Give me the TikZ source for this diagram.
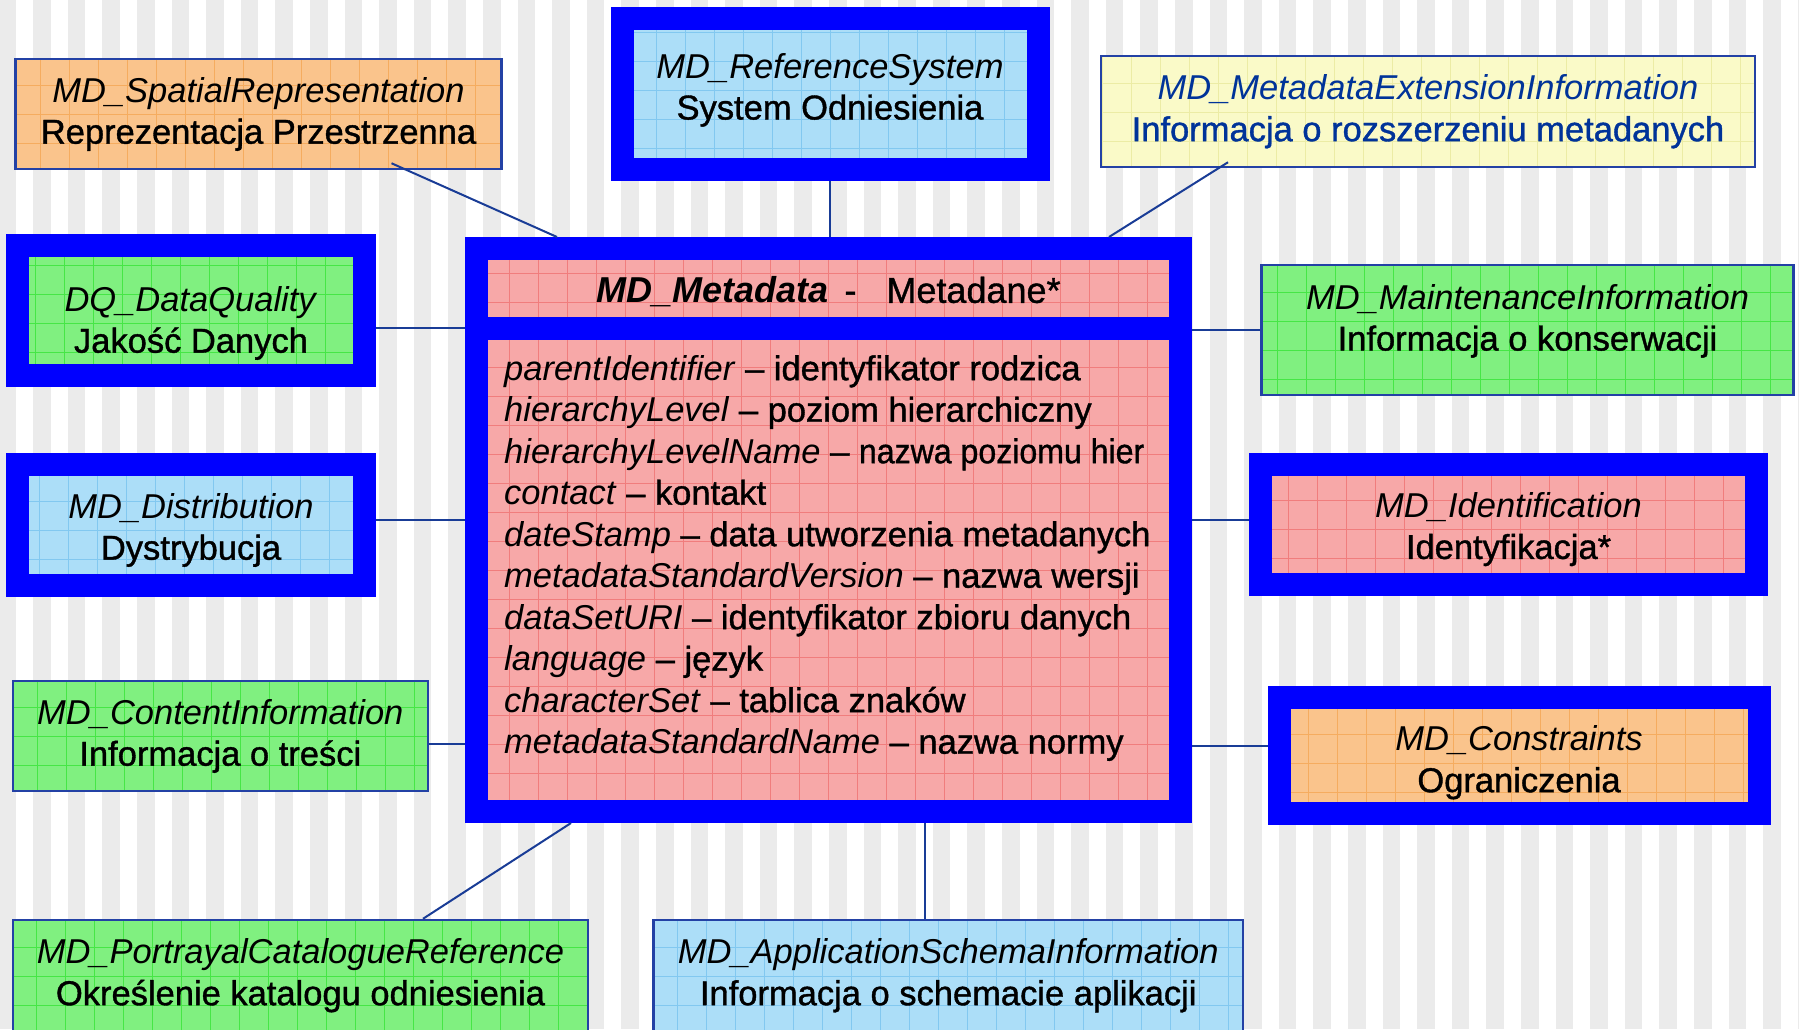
\documentclass[tikz,border=0pt]{standalone}
\usepackage{graphicx}
\usepackage{fontspec}
\setmainfont{Liberation Sans}[UprightFeatures={FakeBold=1.1}]

\definecolor{frameblue}{RGB}{0,0,255}
\definecolor{edgeblue}{RGB}{35,65,165}
\definecolor{linkblue}{RGB}{25,60,150}
\definecolor{stripegray}{RGB}{235,235,235}
\definecolor{pinkfill}{RGB}{247,168,168}
\definecolor{pinkgrid}{RGB}{240,125,125}
\definecolor{greenfill}{RGB}{128,240,128}
\definecolor{greengrid}{RGB}{70,230,70}
\definecolor{bluefill}{RGB}{172,222,248}
\definecolor{bluegrid}{RGB}{130,200,240}
\definecolor{orangefill}{RGB}{250,196,140}
\definecolor{orangegrid}{RGB}{245,172,95}
\definecolor{yellowfill}{RGB}{250,250,200}
\definecolor{yellowgrid}{RGB}{236,236,165}
\definecolor{textnavy}{RGB}{0,51,153}

% struts that move a two-line label down (tall first line) or up (deep last line)
\newcommand{\tallstrut}[1]{\rule{0pt}{#1}}
\newcommand{\deepstrut}[1]{\rule[-#1]{0pt}{0pt}}

\tikzstyle{cls}=[shape=rectangle,
                 draw=edgeblue,
                 line width=2.5pt,
                 inner sep=0pt,
                 align=center,
                 font=\fontsize{34.5}{41.5}\selectfont]
\tikzstyle{frm}=[shape=rectangle,
                 draw=frameblue,
                 line width=23pt,
                 inner sep=0pt,
                 align=center,
                 font=\fontsize{34.5}{41.5}\selectfont]
\tikzstyle{conn}=[draw=linkblue,line width=2pt]
\tikzstyle{pinkbox}=[fill=pinkfill,path picture={\draw[pinkgrid,line width=1pt,step=29pt]
  (path picture bounding box.south west) grid (path picture bounding box.north east);}]
\tikzstyle{greenbox}=[fill=greenfill,path picture={\draw[greengrid,line width=1pt,step=29pt]
  (path picture bounding box.south west) grid (path picture bounding box.north east);}]
\tikzstyle{bluebox}=[fill=bluefill,path picture={\draw[bluegrid,line width=1pt,step=29pt]
  (path picture bounding box.south west) grid (path picture bounding box.north east);}]
\tikzstyle{orangebox}=[fill=orangefill,path picture={\draw[orangegrid,line width=1pt,step=29pt]
  (path picture bounding box.south west) grid (path picture bounding box.north east);}]
\tikzstyle{yellowbox}=[fill=yellowfill,path picture={\draw[yellowgrid,line width=1pt,step=29pt]
  (path picture bounding box.south west) grid (path picture bounding box.north east);}]

\begin{document}
\begin{tikzpicture}[x=1pt,y=-1pt]
\useasboundingbox (0,0) rectangle (1799,1029);
\clip (0,0) rectangle (1799,1029);

% striped background
\fill[white] (0,0) rectangle (1799,1029);
\foreach \i in {0,...,52}
  \fill[stripegray] ({\i*34.6-1.4},0) rectangle ++(17.6,1029);

% main class
\node[frm,pinkbox,minimum width=704pt,minimum height=80pt,
      font=\fontsize{36}{43}\selectfont] (metahead) at (828.5,288.5)
      {\tallstrut{33pt}\textbf{\textit{MD\_Metadata}}\hspace{16pt}-\hspace{30pt}Metadane*};
\node[frm,pinkbox,minimum width=704pt,minimum height=483pt] (metabody) at (828.5,570) {};
\node[anchor=north west,inner sep=0pt,align=left,
      font=\fontsize{34.5}{41.5}\selectfont] (attrs) at (504,355)
      {\textit{parentIdentifier} – identyfikator rodzica\\
       \textit{hierarchyLevel} – poziom hierarchiczny\\
       \textit{hierarchyLevelName} – \scalebox{0.93}[1]{nazwa poziomu hier}\\
       \textit{contact} – kontakt\\
       \textit{dateStamp} – data utworzenia metadanych\\
       \textit{metadataStandardVersion} – nazwa wersji\\
       \textit{dataSetURI} – identyfikator zbioru danych\\
       \textit{language} – język\\
       \textit{characterSet} – tablica znaków\\
       \textit{metadataStandardName} – nazwa normy};

% framed packages
\node[frm,bluebox,minimum width=416pt,minimum height=151pt] (refsys) at (830,93.5)
      {\textit{MD\_ReferenceSystem}\\System Odniesienia\deepstrut{14.5pt}};
\node[frm,greenbox,minimum width=346.5pt,minimum height=130pt] (dq) at (191,310.5)
      {\tallstrut{50pt}\textit{DQ\_DataQuality}\\Jakość Danych};
\node[frm,bluebox,minimum width=347pt,minimum height=120.5pt] (dist) at (191,524.75)
      {\tallstrut{35.5pt}\textit{MD\_Distribution}\\Dystrybucja};
\node[frm,pinkbox,minimum width=496pt,minimum height=120pt] (ident) at (1508.5,524.5)
      {\tallstrut{34.5pt}\textit{MD\_Identification}\\Identyfikacja*};
\node[frm,orangebox,minimum width=480pt,minimum height=116pt] (constr) at (1519,755.5)
      {\tallstrut{39pt}\textit{MD\_Constraints}\\Ograniczenia};

% plain packages
\node[cls,orangebox,minimum width=486pt,minimum height=110pt] (spat) at (258.5,114)
      {\textit{MD\_SpatialRepresentation}\\Reprezentacja Przestrzenna};
\node[cls,yellowbox,text=textnavy,minimum width=654pt,minimum height=111pt] (ext) at (1428,111.5)
      {\textit{MD\_MetadataExtensionInformation}\\Informacja o rozszerzeniu metadanych};
\node[cls,greenbox,minimum width=532pt,minimum height=130pt] (maint) at (1527.5,330)
      {\textit{MD\_MaintenanceInformation}\\Informacja o konserwacji\deepstrut{25.5pt}};
\node[cls,greenbox,minimum width=415pt,minimum height=110pt] (content) at (220.3,736)
      {\textit{MD\_ContentInformation}\\Informacja o treści};
\node[cls,greenbox,minimum width=575pt,minimum height=111pt] (portr) at (300.5,975.5)
      {\textit{MD\_PortrayalCatalogueReference}\\Określenie katalogu odniesienia};
\node[cls,bluebox,minimum width=589.5pt,minimum height=111pt] (appsch) at (948.25,975.5)
      {\textit{MD\_ApplicationSchemaInformation}\\Informacja o schemacie aplikacji};

% associations
\path[conn] ([xshift=133pt,yshift=7pt]spat.south) edge ([xshift=-271.5pt]metahead.north)
            (refsys.south) edge (refsys.south |- metahead.north)
            ([xshift=-200pt,yshift=6pt]ext.south) edge ([xshift=280.5pt]metahead.north)
            ([yshift=-17.5pt]dq.east) edge ([yshift=-17.5pt]dq.east -| metahead.west)
            ([yshift=4.75pt]dist.east) edge ([yshift=4.75pt]dist.east -| metabody.west)
            ([yshift=-8pt]content.east) edge ([yshift=-8pt]content.east -| metabody.west)
            ([xshift=122.5pt]portr.north) edge ([xshift=-257.5pt]metabody.south)
            ([xshift=-23.75pt]appsch.north) edge ([xshift=-23.75pt]appsch.north |- metabody.south)
            (maint.west) edge (maint.west -| metahead.east)
            ([yshift=4.5pt]ident.west) edge ([yshift=4.5pt]ident.west -| metabody.east)
            ([yshift=9.5pt]constr.west) edge ([yshift=9.5pt]constr.west -| metabody.east);
\end{tikzpicture}
\end{document}
